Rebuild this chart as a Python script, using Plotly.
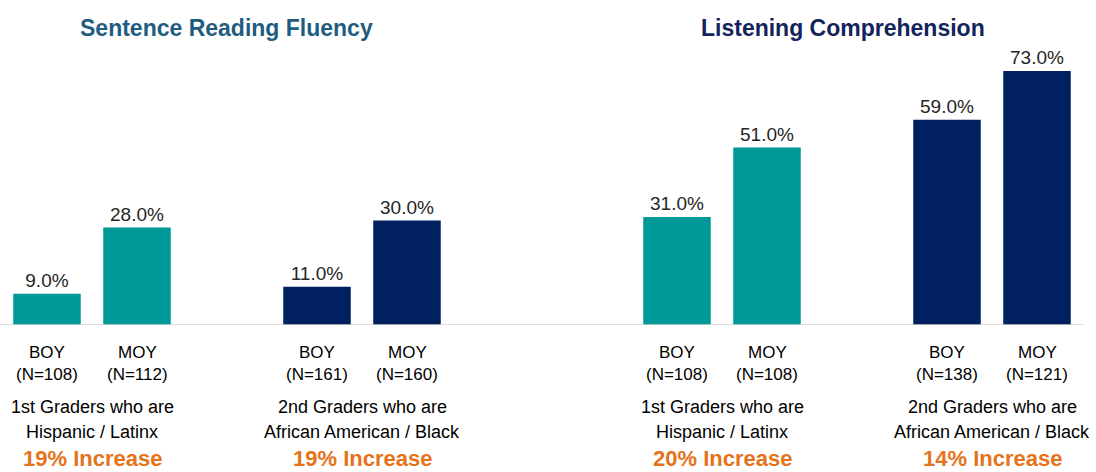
import plotly.graph_objects as go

# ---- data ----
panel_titles = ["Sentence Reading Fluency", "Listening Comprehension"]
bar_labels = ["BOY", "MOY", "BOY", "MOY", "BOY", "MOY", "BOY", "MOY"]
n_labels = ["(N=108)", "(N=112)", "(N=161)", "(N=160)", "(N=108)", "(N=108)", "(N=138)", "(N=121)"]
values = [9.0, 28.0, 11.0, 30.0, 31.0, 51.0, 59.0, 73.0]
group_labels = [
    "1st Graders who are<br>Hispanic / Latinx",
    "2nd Graders who are<br>African American / Black",
    "1st Graders who are<br>Hispanic / Latinx",
    "2nd Graders who are<br>African American / Black",
]
increase_labels = ["19% Increase", "19% Increase", "20% Increase", "14% Increase"]
group_kind = ["hisp", "hisp", "black", "black", "hisp", "hisp", "black", "black"]

# ---- styling / layout ----
W, H = 1096, 472
PLOT_H = 325               # plot area from top 0 to baseline
PX_PER_UNIT = 90.0         # x pixel per slot
FIRST_PX = 47.0            # pixel centre of first bar
positions = [0, 1, 3, 4, 7, 8, 10, 11]
colors = {"hisp": "#00999a", "black": "#002060"}
bar_colors = [colors[k] for k in group_kind]
FONT = "Liberation Sans, Arial, sans-serif"

x0 = -FIRST_PX / PX_PER_UNIT
x1 = x0 + W / PX_PER_UNIT
ymax = PLOT_H / 3.48


def ypaper(px):
    return 1 - px / PLOT_H


fig = go.Figure()
fig.add_trace(go.Bar(
    x=positions, y=values, width=0.75,
    marker=dict(color=bar_colors, line=dict(width=0)),
    text=[f"{v:.1f}%" for v in values],
    textposition="outside", cliponaxis=False,
    textfont=dict(family=FONT, size=19, color="#262626"),
    hoverinfo="skip",
))

ann = []
# titles
ann.append(dict(text="<b>" + panel_titles[0] + "</b>", xref="paper", yref="paper",
                x=226 / W, y=ypaper(28), showarrow=False, xanchor="center", yanchor="middle",
                font=dict(family=FONT, size=23, color="#1f5c80")))
ann.append(dict(text="<b>" + panel_titles[1] + "</b>", xref="paper", yref="paper",
                x=843 / W, y=ypaper(28), showarrow=False, xanchor="center", yanchor="middle",
                font=dict(family=FONT, size=23, color="#13235c")))
# bar labels
for p, bl, nl in zip(positions, bar_labels, n_labels):
    ann.append(dict(text=bl, x=p, xref="x", yref="paper", y=ypaper(352), showarrow=False,
                    xanchor="center", yanchor="middle",
                    font=dict(family=FONT, size=17, color="#000000")))
    ann.append(dict(text=nl, x=p, xref="x", yref="paper", y=ypaper(375), showarrow=False,
                    xanchor="center", yanchor="middle",
                    font=dict(family=FONT, size=17, color="#000000")))
# group labels
for i, (gl, il) in enumerate(zip(group_labels, increase_labels)):
    cx = (positions[2 * i] + positions[2 * i + 1]) / 2
    l1, l2 = gl.split("<br>")
    ann.append(dict(text=l1, x=cx, xref="x", yref="paper", y=ypaper(407), showarrow=False,
                    xanchor="center", yanchor="middle",
                    font=dict(family=FONT, size=18, color="#000000")))
    ann.append(dict(text=l2, x=cx, xref="x", yref="paper", y=ypaper(432), showarrow=False,
                    xanchor="center", yanchor="middle",
                    font=dict(family=FONT, size=18, color="#000000")))
    ann.append(dict(text="<b>" + il + "</b>", x=cx, xref="x", yref="paper", y=ypaper(458),
                    showarrow=False, xanchor="center", yanchor="middle",
                    font=dict(family=FONT, size=22, color="#e5731c")))

fig.update_layout(
    width=W, height=H,
    margin=dict(l=0, r=0, t=0, b=H - PLOT_H),
    paper_bgcolor="white", plot_bgcolor="white",
    showlegend=False,
    annotations=ann,
    shapes=[dict(type="line", xref="x", yref="y", x0=x0, x1=(1083 - FIRST_PX) / PX_PER_UNIT,
                 y0=0, y1=0, line=dict(color="#d0d0d0", width=1.5), layer="above")],
    xaxis=dict(range=[x0, x1], visible=False, fixedrange=True),
    yaxis=dict(range=[0, ymax], visible=False, fixedrange=True),
)

fig.write_html("out.html", config={"displayModeBar": False},
               post_script="document.body.style.margin='0';")
